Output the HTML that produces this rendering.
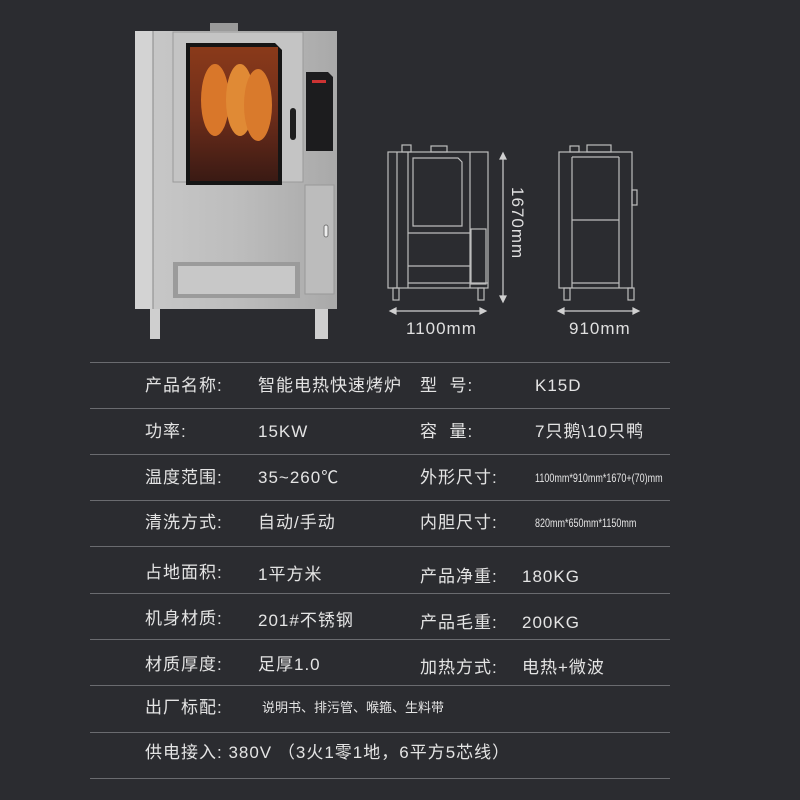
<!DOCTYPE html>
<html><head><meta charset="utf-8"><style>
body{margin:0;width:800px;height:800px;background:#2b2c30;overflow:hidden;position:relative;font-family:"Liberation Sans","Noto Sans CJK SC",sans-serif;color:#e4e4e4}
.t{position:absolute;font-size:17px;white-space:nowrap;letter-spacing:1px;line-height:20px}
.s{font-size:12px;letter-spacing:0;transform:scaleX(.75);transform-origin:left}
.ln{position:absolute;left:90px;width:580px;height:1px;background:#6a6b6f}
</style></head><body>
<svg width="800" height="360" style="position:absolute;left:0;top:0">
<defs>
<linearGradient id="st" x1="0" x2="1"><stop offset="0" stop-color="#c9c9c9"/><stop offset=".5" stop-color="#bdbdbd"/><stop offset="1" stop-color="#a9a9a9"/></linearGradient>
<linearGradient id="win" x1="0" y1="0" x2="0" y2="1"><stop offset="0" stop-color="#8a3a1a"/><stop offset=".5" stop-color="#6e2d1a"/><stop offset="1" stop-color="#3a1a14"/></linearGradient>
</defs>
<rect x="210" y="23" width="28" height="9" fill="#9a9a9a"/>
<rect x="135" y="31" width="202" height="278" fill="url(#st)"/>
<rect x="135" y="31" width="18" height="278" fill="#d3d3d3"/>
<line x1="153" y1="31" x2="153" y2="309" stroke="#8a8a8a"/>
<rect x="173" y="32" width="130" height="150" fill="#c4c4c4" stroke="#9a9a9a"/>
<path d="M186 43 H275 L282 50 V185 H186 Z" fill="#151515"/>
<rect x="190" y="47" width="88" height="134" fill="url(#win)"/>
<ellipse cx="215" cy="100" rx="14" ry="36" fill="#d9772a"/>
<ellipse cx="240" cy="100" rx="14" ry="36" fill="#e08a35"/>
<ellipse cx="258" cy="105" rx="14" ry="36" fill="#d97a2c"/>
<rect x="290" y="108" width="6" height="32" rx="3" fill="#1e1e1e"/>
<path d="M306 72 H328 L333 77 V151 H306 Z" fill="#1c1c1e"/>
<rect x="312" y="80" width="14" height="3" fill="#c33"/>
<rect x="305" y="185" width="29" height="109" fill="#bcbcbc" stroke="#999"/>
<rect x="324" y="225" width="4" height="12" rx="2" fill="#eee" stroke="#777"/>
<rect x="173" y="262" width="127" height="36" fill="#9b9b9b"/>
<rect x="178" y="266" width="117" height="28" fill="#c8c8c8"/>
<rect x="150" y="309" width="10" height="30" fill="#cfcfcf"/><rect x="315" y="309" width="13" height="30" fill="#cfcfcf"/>
<g fill="none" stroke="#bdbdbd" stroke-width="1.2">
<rect x="388" y="152" width="100" height="136"/>
<line x1="397" y1="152" x2="397" y2="288"/><line x1="408" y1="152" x2="408" y2="288"/>
<path d="M413 158 H458 L462 162 V226 H413 Z"/>
<line x1="408" y1="233" x2="470" y2="233"/><line x1="408" y1="266" x2="470" y2="266"/><line x1="408" y1="283" x2="488" y2="283"/>
<rect x="471" y="229" width="15" height="55"/>
<line x1="470" y1="152" x2="470" y2="288"/>
<rect x="402" y="145" width="9" height="7"/><rect x="431" y="146" width="16" height="6"/>
<rect x="393" y="288" width="6" height="12"/><rect x="478" y="288" width="6" height="12"/>
<rect x="559" y="152" width="73" height="136"/>
<line x1="572" y1="157" x2="572" y2="288"/><line x1="619" y1="157" x2="619" y2="288"/>
<line x1="572" y1="157" x2="619" y2="157"/><line x1="572" y1="220" x2="619" y2="220"/><line x1="572" y1="283" x2="619" y2="283"/>
<rect x="587" y="145" width="24" height="7"/><rect x="570" y="146" width="9" height="6"/>
<rect x="632" y="190" width="5" height="15"/>
<rect x="564" y="288" width="6" height="12"/><rect x="628" y="288" width="6" height="12"/>
</g>
<g stroke="#d0d0d0" stroke-width="1.2" fill="#d0d0d0">
<line x1="392" y1="311" x2="484" y2="311"/><path d="M390 311 l6 -3 v6z M486 311 l-6 -3 v6z"/>
<line x1="560" y1="311" x2="637" y2="311"/><path d="M558 311 l6 -3 v6z M639 311 l-6 -3 v6z"/>
<line x1="503" y1="155" x2="503" y2="300"/><path d="M503 153 l-3 6 h6z M503 302 l-3 -6 h6z"/>
</g>
<text x="406" y="334" fill="#e0e0e0" font-size="17" font-family="Liberation Sans" letter-spacing="1">1100mm</text>
<text x="569" y="334" fill="#e0e0e0" font-size="17" font-family="Liberation Sans" letter-spacing="1">910mm</text>
<text x="0" y="0" fill="#e0e0e0" font-size="17" font-family="Liberation Sans" letter-spacing="1" transform="translate(512,187) rotate(90)">1670mm</text>
</svg>
<div class="ln" style="top:362px"></div><div class="ln" style="top:408px"></div><div class="ln" style="top:454px"></div><div class="ln" style="top:500px"></div><div class="ln" style="top:546px"></div><div class="ln" style="top:593px"></div><div class="ln" style="top:639px"></div><div class="ln" style="top:685px"></div><div class="ln" style="top:732px"></div><div class="ln" style="top:778px"></div>
<div class="t" style="left:145px;top:376px">产品名称:</div><div class="t" style="left:258px;top:376px">智能电热快速烤炉</div><div class="t" style="left:420px;top:376px">型&nbsp;&nbsp;号:</div><div class="t" style="left:535px;top:376px">K15D</div>
<div class="t" style="left:145px;top:422px">功率:</div><div class="t" style="left:258px;top:422px">15KW</div><div class="t" style="left:420px;top:422px">容&nbsp;&nbsp;量:</div><div class="t" style="left:535px;top:422px">7只鹅\10只鸭</div>
<div class="t" style="left:145px;top:468px">温度范围:</div><div class="t" style="left:258px;top:468px">35~260℃</div><div class="t" style="left:420px;top:468px">外形尺寸:</div><div class="t s" style="left:535px;top:468px">1100mm*910mm*1670+(70)mm</div>
<div class="t" style="left:145px;top:513px">清洗方式:</div><div class="t" style="left:258px;top:513px">自动/手动</div><div class="t" style="left:420px;top:513px">内胆尺寸:</div><div class="t s" style="left:535px;top:513px">820mm*650mm*1150mm</div>
<div class="t" style="left:145px;top:563px">占地面积:</div><div class="t" style="left:258px;top:565px">1平方米</div><div class="t" style="left:420px;top:567px">产品净重:</div><div class="t" style="left:522px;top:567px">180KG</div>
<div class="t" style="left:145px;top:609px">机身材质:</div><div class="t" style="left:258px;top:611px">201#不锈钢</div><div class="t" style="left:420px;top:613px">产品毛重:</div><div class="t" style="left:522px;top:613px">200KG</div>
<div class="t" style="left:145px;top:655px">材质厚度:</div><div class="t" style="left:258px;top:655px">足厚1.0</div><div class="t" style="left:420px;top:658px">加热方式:</div><div class="t" style="left:522px;top:658px">电热+微波</div>
<div class="t" style="left:145px;top:698px">出厂标配:</div><div class="t" style="left:262px;top:698px;font-size:13px;letter-spacing:0">说明书、排污管、喉箍、生料带</div>
<div class="t" style="left:145px;top:743px">供电接入: 380V （3火1零1地，6平方5芯线）</div>
</body></html>
